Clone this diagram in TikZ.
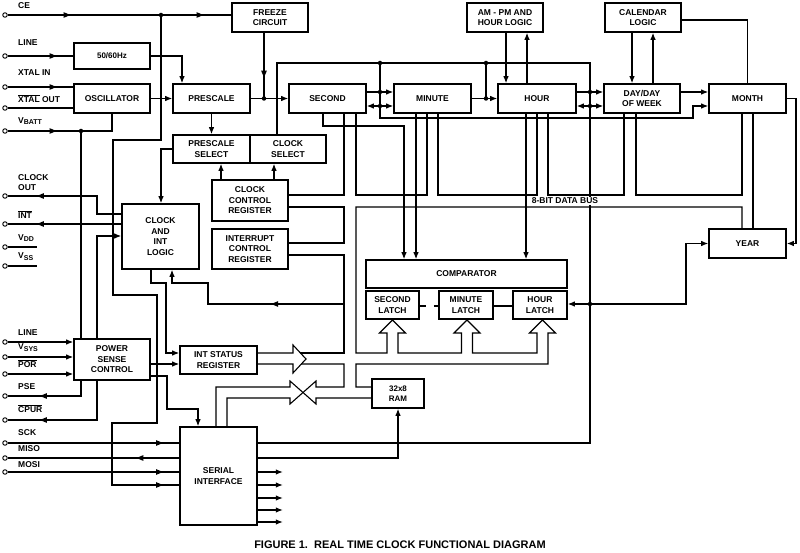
\documentclass[tikz,border=0pt]{standalone}
\usepackage{fontspec}
\setmainfont{Liberation Sans}
\usetikzlibrary{arrows.meta,decorations.markings}
\begin{document}
\begin{tikzpicture}[x=1pt,y=-1pt,
  >={Latex[length=7pt,width=5.5pt]},
  wire/.style={line width=1.1pt},
  box/.style={draw,line width=1.6pt,inner sep=0pt,align=center,font=\fontsize{8.5}{10.5}\selectfont\bfseries},
  lbl/.style={anchor=west,inner sep=0pt,align=left,font=\fontsize{8.5}{10}\selectfont\bfseries},
  pinc/.style={circle,draw,line width=0.9pt,fill=white,inner sep=0pt,minimum size=4.5pt},
  dot/.style={circle,fill=black,inner sep=0pt,minimum size=4.5pt},
  marr/.style={postaction={decorate},decoration={markings,mark=at position #1 with {\fill (0.8,0) -- (-6.2,-2.9) -- (-6.2,2.9) -- cycle;}}},
  marrtwo/.style 2 args={postaction={decorate},decoration={markings,mark=at position #1 with {\fill (0.8,0) -- (-6.2,-2.9) -- (-6.2,2.9) -- cycle;},mark=at position #2 with {\fill (0.8,0) -- (-6.2,-2.9) -- (-6.2,2.9) -- cycle;}}},
]
\useasboundingbox (0,0) rectangle (800,553);

% ---------- boxes ----------
\node[box,minimum width=76pt,minimum height=29pt] (freeze) at (270,17.5) {FREEZE\\CIRCUIT};
\node[box,minimum width=76pt,minimum height=29pt] (ampm) at (505,17.5) {AM - PM AND\\HOUR LOGIC};
\node[box,minimum width=76pt,minimum height=29pt] (cal) at (643,17.5) {CALENDAR\\LOGIC};
\node[box,minimum width=76pt,minimum height=26pt,font=\fontsize{8}{10}\selectfont\bfseries] (hz) at (112,56) {50/60Hz};
\node[box,minimum width=76pt,minimum height=29pt] (osc) at (112,98.5) {OSCILLATOR};
\node[box,minimum width=77pt,minimum height=29pt] (prescale) at (211.5,98.5) {PRESCALE};
\node[box,minimum width=77pt,minimum height=29pt] (second) at (327.5,98.5) {SECOND};
\node[box,minimum width=77pt,minimum height=29pt] (minute) at (432.5,98.5) {MINUTE};
\node[box,minimum width=78pt,minimum height=29pt] (hour) at (537,98.5) {HOUR};
\node[box,minimum width=76pt,minimum height=29pt] (day) at (642,98.5) {DAY/DAY\\OF WEEK};
\node[box,minimum width=77pt,minimum height=29pt] (month) at (747.5,98.5) {MONTH};
\node[box,minimum width=77pt,minimum height=28pt] (psel) at (211.5,149) {PRESCALE\\SELECT};
\node[box,minimum width=76pt,minimum height=28pt] (csel) at (288,149) {CLOCK\\SELECT};
\node[box,minimum width=76pt,minimum height=41pt] (ccr) at (250,200.5) {CLOCK\\CONTROL\\REGISTER};
\node[box,minimum width=76pt,minimum height=40pt] (icr) at (250,249) {INTERRUPT\\CONTROL\\REGISTER};
\node[box,minimum width=77pt,minimum height=65pt] (clk) at (160.5,236.5) {CLOCK\\AND\\INT\\LOGIC};
\node[box,minimum width=201pt,minimum height=28pt] (comp) at (466.5,274) {COMPARATOR};
\node[box,minimum width=53pt,minimum height=28pt] (slatch) at (392.5,305) {SECOND\\LATCH};
\node[box,minimum width=54pt,minimum height=28pt] (mlatch) at (466,305) {MINUTE\\LATCH};
\node[box,minimum width=54pt,minimum height=28pt] (hlatch) at (540,305) {HOUR\\LATCH};
\node[box,minimum width=77pt,minimum height=29pt] (year) at (747.5,243.5) {YEAR};
\node[box,minimum width=76pt,minimum height=41pt] (power) at (112,359.5) {POWER\\SENSE\\CONTROL};
\node[box,minimum width=77pt,minimum height=28pt] (intstat) at (218.5,360) {INT STATUS\\REGISTER};
\node[box,minimum width=52pt,minimum height=29pt,font=\fontsize{8}{10}\selectfont\bfseries] (ram) at (398,393.5) {32x8\\RAM};
\node[box,minimum width=77pt,minimum height=98pt] (serial) at (218.5,476) {SERIAL\\INTERFACE};

% ---------- pins ----------
\node[pinc] (pce) at (5,15) {};
\node[pinc] (pline) at (5,56) {};
\node[pinc] (pxin) at (5,87) {};
\node[pinc] (pxout) at (5,108) {};
\node[pinc] (pvbatt) at (5,131) {};
\node[pinc] (pclkout) at (5,196) {};
\node[pinc] (pint) at (5,224) {};
\node[pinc] (pvdd) at (5,247) {};
\node[pinc] (pvss) at (5,266) {};
\node[pinc] (plinetwo) at (5,342) {};
\node[pinc] (pvsys) at (5,357) {};
\node[pinc] (ppor) at (5,374) {};
\node[pinc] (ppse) at (5,396) {};
\node[pinc] (pcpur) at (5,420) {};
\node[pinc] (psck) at (5,443) {};
\node[pinc] (pmiso) at (5,458) {};
\node[pinc] (pmosi) at (5,472) {};

\node[lbl] (lce) at (18,6) {CE};
\node[lbl] (lline) at (18,43) {LINE};
\node[lbl] (lxin) at (18,73) {XTAL IN};
\node[lbl] (lxout) at (18,99) {$\overline{\mbox{XTAL}}$ OUT};
\node[lbl] (lvbatt) at (18,121) {V\raisebox{-1.8pt}{\fontsize{7}{7}\selectfont BATT}};
\node[lbl] (lclkout) at (18,183) {CLOCK\\OUT};
\node[lbl] (lint) at (18,215) {$\overline{\mbox{INT}}$};
\node[lbl] (lvdd) at (18,238) {V\raisebox{-1.8pt}{\fontsize{7}{7}\selectfont DD}};
\node[lbl] (lvss) at (18,257) {V\raisebox{-1.8pt}{\fontsize{7}{7}\selectfont SS}};
\node[lbl] (llinetwo) at (18,333) {LINE};
\node[lbl] (lvsys) at (18,348) {V\raisebox{-1.8pt}{\fontsize{7}{7}\selectfont SYS}};
\node[lbl] (lpor) at (18,364) {$\overline{\mbox{POR}}$};
\node[lbl] (lpse) at (18,387) {PSE};
\node[lbl] (lcpur) at (18,409) {$\overline{\mbox{CPUR}}$};
\node[lbl] (lsck) at (18,433) {SCK};
\node[lbl] (lmiso) at (18,449) {MISO};
\node[lbl] (lmosi) at (18,465) {MOSI};

% ---------- left side connectors ----------
\draw[wire,marrtwo={62pt}{195pt}] (pce) -- (freeze.west |- pce);
\draw[wire,marr=-17pt] (161,15) -- (161,140) -- (113,140) -- (113,295) -- (157,295) -- (157,423) -- (112,423) -- (112,485) -- (serial.west |- 0,485);
\draw[wire,marr=48pt] (pline) -- (hz.west |- pline);
\draw[wire,->] (hz.east) -| (prescale.north -| 182,0);
\draw[wire,marr=48pt] (pxin) -- (osc.west |- pxin);
\draw[wire] (pxout) -- (osc.west |- pxout);
\draw[wire,marr=48pt] (pvbatt) -| (osc.south);
\draw[wire] (81,131) -- (power.north -| 81,0);
\draw[wire,->] (osc.east) -- (prescale.west);
\draw[wire,marr=44pt] (freeze.south -| 264,0) -- (264,98.5);
\draw[wire,->] (prescale.east) -- (second.west);
\draw[wire,->] (prescale.south) -- (psel.north);
\draw[wire,->] (ccr.north -| 221,0) -- (psel.south -| 221,0);
\draw[wire,->] (ccr.north -| 274,0) -- (csel.south -| 274,0);
\draw[wire,->] (psel.west) -| (clk.north -| 161,0);
\draw[wire,marr=-30pt] (clk.west |- 0,214) -- (97,214) -- (97,196) -- (pclkout);
\draw[wire,marr=-30pt] (clk.west |- 0,224) -- (pint);
\draw[wire] (pvdd) -- (37,247);
\draw[wire] (pvss) -- (37,266);
\draw[wire,->] (power.north -| 97,0) -- (97,236) -- (clk.west |- 0,236);
\draw[wire,->] (clk.south -| 151,0) -- (151,283) -- (166,283) -- (166,353) -- (intstat.west |- 0,353);
\draw[wire,->,marr=72pt] (344,304) -- (208,304) -- (208,283) -- (172,283) -- (clk.south -| 172,0);
\draw[wire,->] (plinetwo) -- (power.west |- plinetwo);
\draw[wire,->] (pvsys) -- (power.west |- pvsys);
\draw[wire,->] (ppor) -- (power.west |- ppor);
\draw[wire,marr=-33pt] (power.south -| 81,0) -- (81,396) -- (ppse);
\draw[wire,marr=-33pt] (power.south -| 97,0) -- (97,420) -- (pcpur);
\draw[wire,->] (power.east |- 0,364) -- (intstat.west |- 0,364);
\draw[wire,->] (power.east |- 0,376) -- (167,376) -- (167,409) -- (198,409) -- (serial.north -| 198,0);
\draw[wire,marr=-17pt] (psck) -- (serial.west |- psck);
\draw[wire,marr=42pt] (serial.west |- pmiso) -- (pmiso);
\draw[wire,marr=-17pt] (pmosi) -- (serial.west |- pmosi);
\foreach \yy in {472,485,498,510,522} \draw[wire,->] (serial.east |- 0,\yy) -- ++(25,0);
\draw[wire,->] (serial.east |- 0,458) -- (398,458) -- (ram.south);

% ---------- top control wiring ----------
\draw[wire] (csel.north -| 277,0) -- (277,63) -- (590,63) -- (590,443) -- (serial.east |- 0,443);
\draw[wire,->] (380,63) -- (380,118) -- (693,118) -- (693,106) -- (month.west |- 0,106);
\draw[wire,->] (second.east |- 0,92) -- (minute.west |- 0,92);
\draw[wire,<->] (second.east |- 0,106) -- (minute.west |- 0,106);
\draw[wire,->] (minute.east) -- (hour.west);
\draw[wire] (486,63) -- (486,98.5);
\draw[wire,->] (hour.east |- 0,92) -- (day.west |- 0,92);
\draw[wire,<->] (hour.east |- 0,106) -- (day.west |- 0,106);
\draw[wire,->] (day.east |- 0,92) -- (month.west |- 0,92);
\draw[wire,->] (month.east) -- (796,98.5) |- (year.east);
\draw[wire,->] (ampm.south -| 506,0) -- (hour.north -| 506,0);
\draw[wire,->] (hour.north -| 527,0) -- (ampm.south -| 527,0);
\draw[wire,->] (cal.south -| 632,0) -- (day.north -| 632,0);
\draw[wire,->] (day.north -| 653,0) -- (cal.south -| 653,0);
\draw[wire] (cal.east |- 0,20) -| (month.north);

% ---------- comparator / latches ----------
\draw[wire,->] (second.south -| 323,0) -- (323,126) -- (404,126) -- (comp.north -| 404,0);
\draw[wire,->] (minute.south -| 416,0) -- (comp.north -| 416,0);
\draw[wire,->] (hour.south -| 526,0) -- (comp.north -| 526,0);
\draw[wire,dash pattern=on 6pt off 8pt] (slatch.east |- 0,306) -- (mlatch.west |- 0,306);
\draw[wire] (mlatch.east |- 0,306) -- (hlatch.west |- 0,306);
\draw[wire,->] (590,304) -- (hlatch.east |- 0,304);
\draw[wire,->] (590,304) -- (686,304) -- (686,243.5) -- (year.west);

% ---------- data bus (double lines) ----------
\draw[wire] (second.south -| 344,0) -- (344,195) -- (ccr.east |- 0,195);
\draw[wire] (ccr.east |- 0,207) -- (344,207) -- (344,243) -- (icr.east |- 0,243);
\draw[wire] (icr.east |- 0,255) -- (344,255) -- (344,353) -- (300.4,353);
\draw[wire] (intstat.east |- 0,353) -- (293,353) -- (293,345) -- (306,359) -- (293,373) -- (293,364) -- (intstat.east |- 0,364);
\draw[wire] (301,364) -- (344,364) -- (344,387) -- (316,387) -- (316,381) -- (290,404) -- (290,398) -- (227,398) -- (serial.north -| 227,0);
\draw[wire] (serial.north -| 216,0) -- (216,387) -- (290,387) -- (290,381) -- (316,404) -- (316,398) -- (ram.west |- 0,398);
\draw[wire] (second.south -| 356,0) -- (356,195) -- (427,195) -- (minute.south -| 427,0);
\draw[wire] (minute.south -| 438,0) -- (438,195) -- (537,195) -- (hour.south -| 537,0);
\draw[wire] (hour.south -| 548,0) -- (548,195) -- (624,195) -- (day.south -| 624,0);
\draw[wire] (day.south -| 636,0) -- (636,195) -- (742,195) -- (month.south -| 742,0);
\draw[wire] (month.south -| 753,0) -- (year.north -| 753,0);
\draw[wire] (year.north -| 742,0) -- (742,207) -- (356,207) -- (356,353) -- (387,353) -- (387,333) -- (379.5,333) -- (392.5,320) -- (405.5,333) -- (398,333) -- (398,353) -- (461.5,353) -- (461.5,333) -- (454,333) -- (467,320) -- (480,333) -- (472.5,333) -- (472.5,353) -- (537,353) -- (537,333) -- (529.5,333) -- (542.5,320) -- (555.5,333) -- (548,333) -- (548,364) -- (356,364) -- (356,387) -- (ram.west |- 0,387);

% ---------- junction dots ----------
\foreach \p in {(161,15),(264,98.5),(81,131),(380,63),(486,63),(380,92),(380,106),(486,98.5),(590,92),(590,106),(590,304)}
  \node[dot] at \p {};

\node[fill=white,inner sep=0.6pt,font=\fontsize{8.5}{10}\selectfont\bfseries] (busl) at (565,201) {8-BIT DATA BUS};
\node[font=\fontsize{11}{13}\selectfont\bfseries] (caption) at (400,545) {FIGURE 1.\ \ REAL TIME CLOCK FUNCTIONAL DIAGRAM};
\end{tikzpicture}
\end{document}
